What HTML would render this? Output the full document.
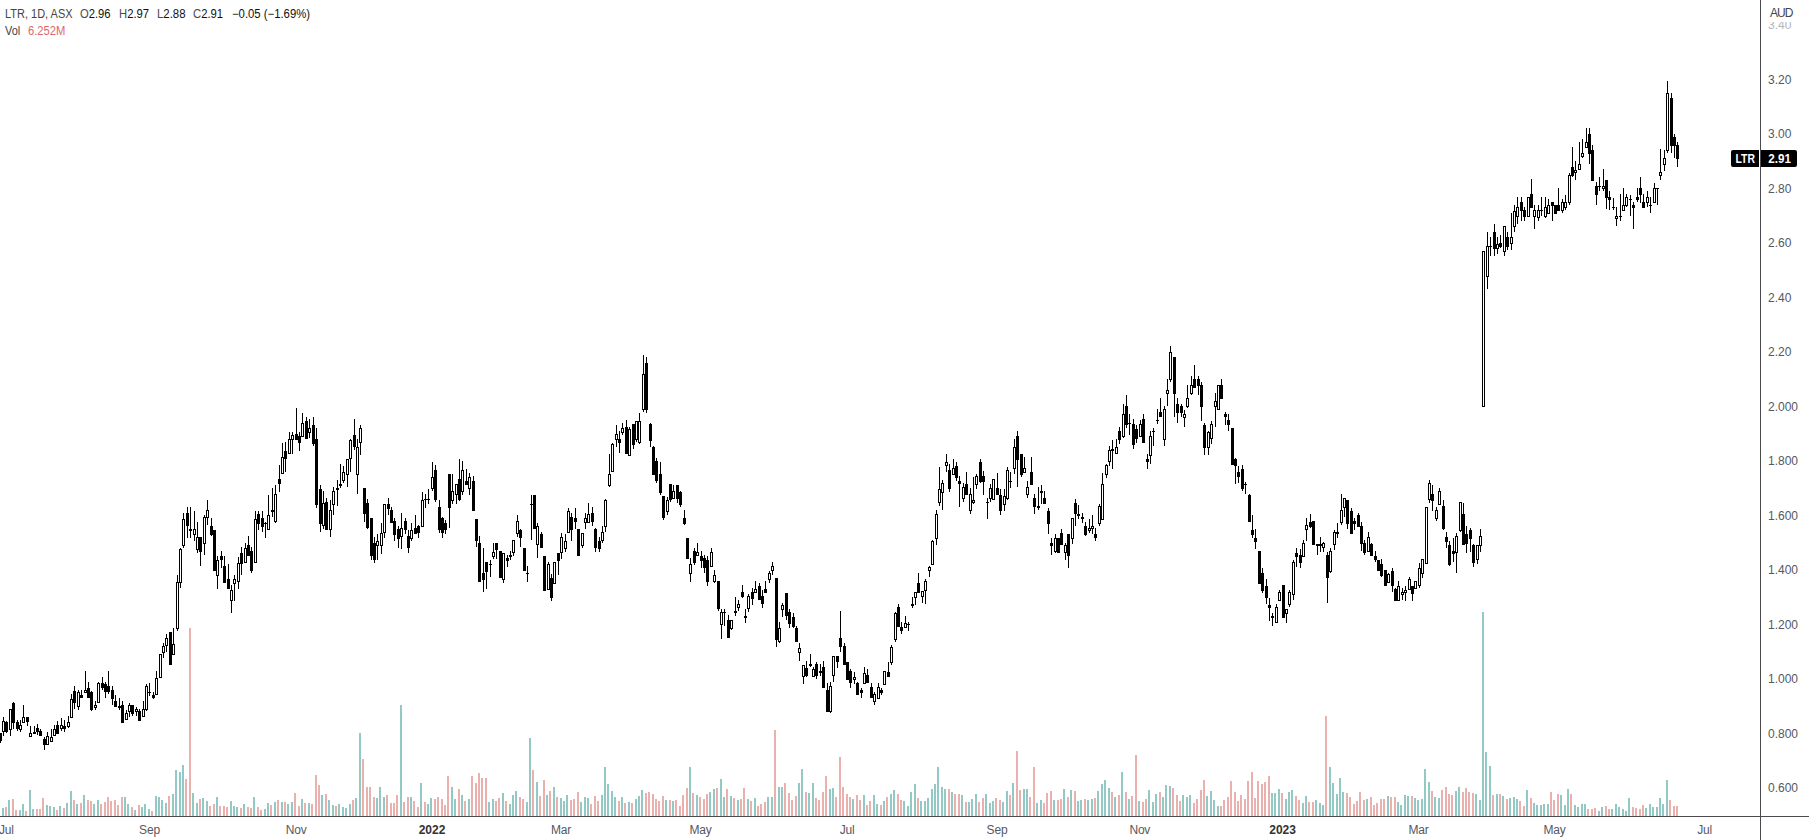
<!DOCTYPE html>
<html><head><meta charset="utf-8"><title>LTR</title>
<style>
html,body{margin:0;padding:0;background:#fff}
body{width:1809px;height:840px;position:relative;overflow:hidden;font-family:"Liberation Sans",sans-serif;font-size:12px;color:#4a4a4a}
.vax{position:absolute;left:1760px;top:0;width:1px;height:840px;background:#4a4a4e}
.hax{position:absolute;left:0;top:816px;width:1809px;height:1px;background:#4a4a4e}
.pl{position:absolute;left:1768px;height:14px;line-height:14px;white-space:nowrap;color:#555861}
.ml{position:absolute;top:823px;height:14px;line-height:14px;white-space:nowrap;transform:translateX(-50%);color:#555861;letter-spacing:-0.2px}
.ml.b{font-weight:bold;color:#333;letter-spacing:0}
.hd{position:absolute;transform-origin:0 0;white-space:nowrap;height:14px;line-height:14px}
.hd b{font-weight:normal;color:#111}
.aud{position:absolute;left:1762px;top:0;width:47px;height:22px;background:#fff}
.aud span{position:absolute;left:8px;top:5.5px;line-height:14px;color:#444;letter-spacing:-0.9px}
.tag{position:absolute;top:150px;height:17px;line-height:19px;background:#000;color:#fff;font-weight:bold;text-align:center}
</style></head><body>
<svg width="1760" height="817" viewBox="0 0 1760 817" shape-rendering="crispEdges" style="position:absolute;left:0;top:0">
<path fill="#93c9c4" d="M2 808h2v8h-2zM8 800h2v16h-2zM19 810h2v6h-2zM22 804h2v12h-2zM29 790h2v26h-2zM32 809h2v7h-2zM46 805h2v11h-2zM49 806h2v10h-2zM53 807h2v9h-2zM59 806h2v10h-2zM66 803h2v13h-2zM70 791h2v25h-2zM76 804h2v12h-2zM83 795h2v21h-2zM93 804h2v12h-2zM97 800h2v16h-2zM124 797h2v19h-2zM127 804h2v12h-2zM134 810h2v6h-2zM141 807h2v9h-2zM144 804h2v12h-2zM148 809h2v7h-2zM155 796h2v20h-2zM158 797h2v19h-2zM161 800h2v16h-2zM165 803h2v13h-2zM172 794h2v22h-2zM175 770h2v46h-2zM179 772h2v44h-2zM182 765h2v51h-2zM192 793h2v23h-2zM196 803h2v13h-2zM202 798h2v18h-2zM206 801h2v15h-2zM216 797h2v19h-2zM230 801h2v15h-2zM233 806h2v10h-2zM236 807h2v9h-2zM243 804h2v12h-2zM253 797h2v19h-2zM264 809h2v7h-2zM267 803h2v13h-2zM274 802h2v14h-2zM281 802h2v14h-2zM287 804h2v12h-2zM291 802h2v14h-2zM301 799h2v17h-2zM308 803h2v13h-2zM321 795h2v21h-2zM328 800h2v16h-2zM332 805h2v11h-2zM338 804h2v12h-2zM342 807h2v9h-2zM345 808h2v8h-2zM349 804h2v12h-2zM355 798h2v18h-2zM359 733h2v83h-2zM376 798h2v18h-2zM379 787h2v29h-2zM383 797h2v19h-2zM400 705h2v111h-2zM410 797h2v19h-2zM420 783h2v33h-2zM427 804h2v12h-2zM430 798h2v18h-2zM451 787h2v29h-2zM454 799h2v17h-2zM461 795h2v21h-2zM468 799h2v17h-2zM488 802h2v14h-2zM492 799h2v17h-2zM502 793h2v23h-2zM509 804h2v12h-2zM512 795h2v21h-2zM515 791h2v25h-2zM526 802h2v14h-2zM529 738h2v78h-2zM536 782h2v34h-2zM546 795h2v21h-2zM553 787h2v29h-2zM560 798h2v18h-2zM563 801h2v15h-2zM566 795h2v21h-2zM580 802h2v14h-2zM584 797h2v19h-2zM587 798h2v18h-2zM601 795h2v21h-2zM604 767h2v49h-2zM607 784h2v32h-2zM611 791h2v25h-2zM614 797h2v19h-2zM621 797h2v19h-2zM628 802h2v14h-2zM635 799h2v17h-2zM638 796h2v20h-2zM641 790h2v26h-2zM665 800h2v16h-2zM672 801h2v15h-2zM689 767h2v49h-2zM696 795h2v21h-2zM709 792h2v24h-2zM713 789h2v27h-2zM720 779h2v37h-2zM723 797h2v19h-2zM730 796h2v20h-2zM737 800h2v16h-2zM747 799h2v17h-2zM754 798h2v18h-2zM767 797h2v19h-2zM771 797h2v19h-2zM778 787h2v29h-2zM781 787h2v29h-2zM798 783h2v33h-2zM801 769h2v47h-2zM808 793h2v23h-2zM812 783h2v33h-2zM829 789h2v27h-2zM832 788h2v28h-2zM852 799h2v17h-2zM863 795h2v21h-2zM873 795h2v21h-2zM876 804h2v12h-2zM883 801h2v15h-2zM890 794h2v22h-2zM893 790h2v26h-2zM903 801h2v15h-2zM907 806h2v10h-2zM910 792h2v24h-2zM914 784h2v32h-2zM920 801h2v15h-2zM924 801h2v15h-2zM927 798h2v18h-2zM931 789h2v27h-2zM934 784h2v32h-2zM937 767h2v49h-2zM941 787h2v29h-2zM944 789h2v27h-2zM951 792h2v24h-2zM961 795h2v21h-2zM968 802h2v14h-2zM971 799h2v17h-2zM975 794h2v22h-2zM985 794h2v22h-2zM989 803h2v13h-2zM992 801h2v15h-2zM1002 802h2v14h-2zM1006 791h2v25h-2zM1012 783h2v33h-2zM1023 789h2v27h-2zM1026 789h2v27h-2zM1036 803h2v13h-2zM1040 800h2v16h-2zM1053 800h2v16h-2zM1063 789h2v27h-2zM1070 790h2v26h-2zM1077 801h2v15h-2zM1080 800h2v16h-2zM1087 800h2v16h-2zM1091 799h2v17h-2zM1097 791h2v25h-2zM1101 784h2v32h-2zM1104 780h2v36h-2zM1108 788h2v28h-2zM1114 797h2v19h-2zM1121 772h2v44h-2zM1128 799h2v17h-2zM1138 801h2v15h-2zM1148 790h2v26h-2zM1152 802h2v14h-2zM1155 794h2v22h-2zM1162 797h2v19h-2zM1165 785h2v31h-2zM1169 786h2v30h-2zM1182 795h2v21h-2zM1186 797h2v19h-2zM1189 795h2v21h-2zM1206 796h2v20h-2zM1210 791h2v25h-2zM1213 800h2v16h-2zM1217 806h2v10h-2zM1271 793h2v23h-2zM1274 793h2v23h-2zM1278 789h2v27h-2zM1285 799h2v17h-2zM1288 792h2v24h-2zM1291 790h2v26h-2zM1302 803h2v13h-2zM1305 796h2v20h-2zM1315 800h2v16h-2zM1319 803h2v13h-2zM1322 805h2v11h-2zM1329 767h2v49h-2zM1332 783h2v33h-2zM1336 794h2v22h-2zM1339 778h2v38h-2zM1342 792h2v24h-2zM1366 799h2v17h-2zM1387 796h2v20h-2zM1397 802h2v14h-2zM1400 805h2v11h-2zM1404 795h2v21h-2zM1407 796h2v20h-2zM1414 798h2v18h-2zM1417 800h2v16h-2zM1421 799h2v17h-2zM1424 769h2v47h-2zM1428 782h2v34h-2zM1434 797h2v19h-2zM1438 798h2v18h-2zM1455 791h2v25h-2zM1458 787h2v29h-2zM1475 794h2v22h-2zM1479 800h2v16h-2zM1482 612h2v204h-2zM1485 752h2v64h-2zM1489 766h2v50h-2zM1496 794h2v22h-2zM1502 796h2v20h-2zM1509 798h2v18h-2zM1513 797h2v19h-2zM1516 799h2v17h-2zM1526 790h2v26h-2zM1533 803h2v13h-2zM1536 805h2v11h-2zM1540 805h2v11h-2zM1543 804h2v12h-2zM1547 804h2v12h-2zM1560 795h2v21h-2zM1564 805h2v11h-2zM1567 789h2v27h-2zM1574 805h2v11h-2zM1577 807h2v9h-2zM1581 804h2v12h-2zM1584 804h2v12h-2zM1598 811h2v5h-2zM1601 807h2v9h-2zM1611 809h2v7h-2zM1615 804h2v12h-2zM1618 807h2v9h-2zM1622 809h2v7h-2zM1625 811h2v5h-2zM1628 798h2v18h-2zM1645 808h2v8h-2zM1649 804h2v12h-2zM1652 807h2v9h-2zM1656 807h2v9h-2zM1659 798h2v18h-2zM1662 804h2v12h-2zM1666 780h2v36h-2z"/>
<path fill="#e9b0ae" d="M5 807h2v9h-2zM12 799h2v17h-2zM15 810h2v6h-2zM25 811h2v5h-2zM36 809h2v7h-2zM39 809h2v7h-2zM42 798h2v18h-2zM56 810h2v6h-2zM63 808h2v8h-2zM73 800h2v16h-2zM80 803h2v13h-2zM87 800h2v16h-2zM90 801h2v15h-2zM100 804h2v12h-2zM104 802h2v14h-2zM107 797h2v19h-2zM110 801h2v15h-2zM114 800h2v16h-2zM117 805h2v11h-2zM121 797h2v19h-2zM131 807h2v9h-2zM138 805h2v11h-2zM151 811h2v5h-2zM168 796h2v20h-2zM185 779h2v37h-2zM189 628h2v188h-2zM199 799h2v17h-2zM209 806h2v10h-2zM213 804h2v12h-2zM219 806h2v10h-2zM223 806h2v10h-2zM226 807h2v9h-2zM240 808h2v8h-2zM247 807h2v9h-2zM250 808h2v8h-2zM257 807h2v9h-2zM260 810h2v6h-2zM270 805h2v11h-2zM277 800h2v16h-2zM284 802h2v14h-2zM294 793h2v23h-2zM298 806h2v10h-2zM304 803h2v13h-2zM311 804h2v12h-2zM315 775h2v41h-2zM318 785h2v31h-2zM325 794h2v22h-2zM335 806h2v10h-2zM352 800h2v16h-2zM362 759h2v57h-2zM366 787h2v29h-2zM369 787h2v29h-2zM373 797h2v19h-2zM386 795h2v21h-2zM390 803h2v13h-2zM393 803h2v13h-2zM396 795h2v21h-2zM403 802h2v14h-2zM407 797h2v19h-2zM413 801h2v15h-2zM417 807h2v9h-2zM424 802h2v14h-2zM434 799h2v17h-2zM437 797h2v19h-2zM441 799h2v17h-2zM444 805h2v11h-2zM447 776h2v40h-2zM458 789h2v27h-2zM464 801h2v15h-2zM471 776h2v40h-2zM475 783h2v33h-2zM478 773h2v43h-2zM481 778h2v38h-2zM485 778h2v38h-2zM495 801h2v15h-2zM498 798h2v18h-2zM505 801h2v15h-2zM519 797h2v19h-2zM522 799h2v17h-2zM532 770h2v46h-2zM539 796h2v20h-2zM543 780h2v36h-2zM549 791h2v25h-2zM556 797h2v19h-2zM570 800h2v16h-2zM573 799h2v17h-2zM577 792h2v24h-2zM590 804h2v12h-2zM594 796h2v20h-2zM597 801h2v15h-2zM618 801h2v15h-2zM624 803h2v13h-2zM631 803h2v13h-2zM645 793h2v23h-2zM648 792h2v24h-2zM652 794h2v22h-2zM655 799h2v17h-2zM658 801h2v15h-2zM662 796h2v20h-2zM669 800h2v16h-2zM675 800h2v16h-2zM679 806h2v10h-2zM682 795h2v21h-2zM686 788h2v28h-2zM692 793h2v23h-2zM699 797h2v19h-2zM703 799h2v17h-2zM706 794h2v22h-2zM716 788h2v28h-2zM726 789h2v27h-2zM733 798h2v18h-2zM740 799h2v17h-2zM743 788h2v28h-2zM750 801h2v15h-2zM757 806h2v10h-2zM760 804h2v12h-2zM764 802h2v14h-2zM774 730h2v86h-2zM784 783h2v33h-2zM788 793h2v23h-2zM791 800h2v16h-2zM795 796h2v20h-2zM805 792h2v24h-2zM815 798h2v18h-2zM818 800h2v16h-2zM822 792h2v24h-2zM825 776h2v40h-2zM835 797h2v19h-2zM839 757h2v59h-2zM842 787h2v29h-2zM846 794h2v22h-2zM849 797h2v19h-2zM856 795h2v21h-2zM859 800h2v16h-2zM866 805h2v11h-2zM869 801h2v15h-2zM880 805h2v11h-2zM886 797h2v19h-2zM897 794h2v22h-2zM900 800h2v16h-2zM917 798h2v18h-2zM948 789h2v27h-2zM954 794h2v22h-2zM958 794h2v22h-2zM965 802h2v14h-2zM978 802h2v14h-2zM982 798h2v18h-2zM995 798h2v18h-2zM999 800h2v16h-2zM1009 795h2v21h-2zM1016 751h2v65h-2zM1019 790h2v26h-2zM1029 797h2v19h-2zM1033 767h2v49h-2zM1043 803h2v13h-2zM1046 793h2v23h-2zM1050 791h2v25h-2zM1057 800h2v16h-2zM1060 799h2v17h-2zM1067 797h2v19h-2zM1074 791h2v25h-2zM1084 799h2v17h-2zM1094 798h2v18h-2zM1111 792h2v24h-2zM1118 795h2v21h-2zM1125 792h2v24h-2zM1131 796h2v20h-2zM1135 755h2v61h-2zM1142 802h2v14h-2zM1145 799h2v17h-2zM1159 792h2v24h-2zM1172 788h2v28h-2zM1176 795h2v21h-2zM1179 801h2v15h-2zM1193 803h2v13h-2zM1196 799h2v17h-2zM1200 790h2v26h-2zM1203 780h2v36h-2zM1220 806h2v10h-2zM1223 800h2v16h-2zM1227 797h2v19h-2zM1230 781h2v35h-2zM1234 792h2v24h-2zM1237 801h2v15h-2zM1240 795h2v21h-2zM1244 799h2v17h-2zM1247 781h2v35h-2zM1251 772h2v44h-2zM1254 798h2v18h-2zM1257 781h2v35h-2zM1261 784h2v32h-2zM1264 782h2v34h-2zM1268 776h2v40h-2zM1281 793h2v23h-2zM1295 796h2v20h-2zM1298 800h2v16h-2zM1308 802h2v14h-2zM1312 802h2v14h-2zM1325 716h2v100h-2zM1346 793h2v23h-2zM1349 797h2v19h-2zM1353 804h2v12h-2zM1356 801h2v15h-2zM1359 792h2v24h-2zM1363 800h2v16h-2zM1370 797h2v19h-2zM1373 805h2v11h-2zM1376 803h2v13h-2zM1380 799h2v17h-2zM1383 799h2v17h-2zM1390 797h2v19h-2zM1394 797h2v19h-2zM1411 796h2v20h-2zM1431 791h2v25h-2zM1441 790h2v26h-2zM1445 787h2v29h-2zM1448 794h2v22h-2zM1451 795h2v21h-2zM1462 792h2v24h-2zM1465 788h2v28h-2zM1468 792h2v24h-2zM1472 793h2v23h-2zM1492 795h2v21h-2zM1499 794h2v22h-2zM1506 799h2v17h-2zM1519 801h2v15h-2zM1523 806h2v10h-2zM1530 798h2v18h-2zM1550 792h2v24h-2zM1553 800h2v16h-2zM1557 794h2v22h-2zM1570 794h2v22h-2zM1587 809h2v7h-2zM1591 809h2v7h-2zM1594 808h2v8h-2zM1605 806h2v10h-2zM1608 809h2v7h-2zM1632 807h2v9h-2zM1635 808h2v8h-2zM1639 809h2v7h-2zM1642 805h2v11h-2zM1669 800h2v16h-2zM1673 806h2v10h-2zM1676 806h2v10h-2z"/>
<path fill="#000" d="M0 733h1v10h-1zM-1 733h3v8h-3zM3 717h1v19h-1zM2 721h3v11h-3zM6 721h1v12h-1zM5 722h3v10h-3zM10 709h1v27h-1zM9 709h3v21h-3zM13 702h1v27h-1zM12 703h3v20h-3zM17 720h1v11h-1zM16 722h3v7h-3zM20 720h1v12h-1zM19 725h3v5h-3zM23 705h1v18h-1zM22 717h3v6h-3zM27 717h1v9h-1zM26 717h3v5h-3zM30 726h1v11h-1zM29 733h3v4h-3zM34 726h1v8h-1zM33 732h3v2h-3zM37 724h1v11h-1zM36 728h3v4h-3zM40 729h1v7h-1zM39 731h3v5h-3zM44 737h1v13h-1zM43 739h3v6h-3zM47 732h1v13h-1zM46 736h3v9h-3zM51 729h1v13h-1zM50 737h3v5h-3zM54 725h1v11h-1zM53 729h3v7h-3zM57 721h1v13h-1zM56 725h3v9h-3zM61 718h1v13h-1zM60 725h3v4h-3zM64 720h1v12h-1zM63 726h3v3h-3zM68 716h1v12h-1zM67 722h3v5h-3zM71 694h1v24h-1zM70 699h3v19h-3zM74 686h1v23h-1zM73 691h3v12h-3zM78 690h1v20h-1zM77 692h3v15h-3zM81 690h1v8h-1zM80 695h3v3h-3zM85 671h1v22h-1zM84 690h3v3h-3zM88 682h1v16h-1zM87 688h3v10h-3zM91 691h1v20h-1zM90 692h3v18h-3zM95 701h1v9h-1zM94 705h3v3h-3zM98 682h1v21h-1zM97 683h3v20h-3zM102 677h1v13h-1zM101 683h3v5h-3zM105 682h1v16h-1zM104 684h3v8h-3zM108 671h1v23h-1zM107 686h3v6h-3zM112 686h1v19h-1zM111 690h3v9h-3zM115 695h1v12h-1zM114 701h3v6h-3zM119 698h1v12h-1zM118 706h3v2h-3zM122 701h1v22h-1zM121 705h3v18h-3zM126 710h1v10h-1zM125 713h3v7h-3zM129 703h1v14h-1zM128 705h3v7h-3zM132 705h1v11h-1zM131 705h3v9h-3zM136 707h1v9h-1zM135 709h3v3h-3zM139 709h1v12h-1zM138 711h3v10h-3zM143 701h1v16h-1zM142 709h3v8h-3zM146 684h1v27h-1zM145 686h3v24h-3zM149 683h1v13h-1zM148 692h3v1h-3zM153 692h1v7h-1zM152 695h3v3h-3zM156 671h1v24h-1zM155 678h3v17h-3zM160 654h1v24h-1zM159 654h3v24h-3zM163 643h1v15h-1zM162 646h3v7h-3zM166 634h1v18h-1zM165 638h3v8h-3zM170 632h1v33h-1zM169 632h3v33h-3zM173 628h1v27h-1zM172 644h3v11h-3zM177 575h1v56h-1zM176 582h3v47h-3zM180 548h1v40h-1zM179 549h3v34h-3zM183 513h1v35h-1zM182 519h3v27h-3zM187 507h1v31h-1zM186 513h3v13h-3zM190 507h1v31h-1zM189 529h3v2h-3zM194 511h1v30h-1zM193 529h3v6h-3zM197 522h1v31h-1zM196 537h3v13h-3zM200 537h1v29h-1zM199 537h3v15h-3zM204 515h1v40h-1zM203 517h3v27h-3zM207 500h1v25h-1zM206 510h3v8h-3zM211 518h1v18h-1zM210 526h3v9h-3zM214 530h1v41h-1zM213 530h3v41h-3zM217 556h1v33h-1zM216 560h3v16h-3zM221 551h1v17h-1zM220 556h3v4h-3zM224 556h1v27h-1zM223 566h3v17h-3zM228 564h1v25h-1zM227 579h3v10h-3zM231 585h1v28h-1zM230 590h3v11h-3zM234 575h1v26h-1zM233 579h3v5h-3zM238 557h1v32h-1zM237 563h3v19h-3zM241 547h1v28h-1zM240 553h3v11h-3zM245 543h1v20h-1zM244 548h3v15h-3zM248 536h1v20h-1zM247 545h3v11h-3zM251 547h1v26h-1zM250 551h3v20h-3zM255 511h1v52h-1zM254 519h3v44h-3zM258 511h1v19h-1zM257 514h3v10h-3zM262 511h1v21h-1zM261 518h3v9h-3zM265 522h1v16h-1zM264 523h3v1h-3zM268 495h1v35h-1zM267 515h3v15h-3zM272 488h1v29h-1zM271 510h3v2h-3zM275 485h1v38h-1zM274 494h3v28h-3zM279 465h1v27h-1zM278 479h3v5h-3zM282 443h1v31h-1zM281 457h3v17h-3zM285 442h1v30h-1zM284 451h3v8h-3zM289 432h1v22h-1zM288 439h3v15h-3zM292 432h1v22h-1zM291 435h3v5h-3zM296 408h1v32h-1zM295 434h3v6h-3zM299 432h1v19h-1zM298 436h3v7h-3zM302 413h1v24h-1zM301 423h3v14h-3zM306 417h1v22h-1zM305 421h3v18h-3zM309 419h1v19h-1zM308 428h3v5h-3zM313 417h1v29h-1zM312 425h3v19h-3zM316 428h1v80h-1zM315 439h3v66h-3zM320 485h1v47h-1zM319 489h3v35h-3zM323 491h1v38h-1zM322 503h3v23h-3zM326 498h1v32h-1zM325 502h3v28h-3zM330 500h1v37h-1zM329 510h3v20h-3zM333 487h1v28h-1zM332 491h3v14h-3zM337 480h1v26h-1zM336 488h3v2h-3zM340 464h1v24h-1zM339 484h3v2h-3zM343 466h1v17h-1zM342 472h3v9h-3zM347 459h1v28h-1zM346 459h3v16h-3zM350 439h1v33h-1zM349 440h3v19h-3zM354 419h1v31h-1zM353 435h3v12h-3zM357 439h1v55h-1zM356 447h3v28h-3zM360 425h1v30h-1zM359 428h3v15h-3zM364 488h1v34h-1zM363 488h3v26h-3zM367 499h1v30h-1zM366 503h3v25h-3zM371 518h1v42h-1zM370 518h3v38h-3zM374 537h1v26h-1zM373 543h3v17h-3zM377 534h1v26h-1zM376 541h3v5h-3zM381 523h1v31h-1zM380 533h3v13h-3zM384 504h1v34h-1zM383 504h3v29h-3zM388 498h1v17h-1zM387 504h3v5h-3zM391 507h1v16h-1zM390 510h3v13h-3zM394 518h1v23h-1zM393 521h3v14h-3zM398 526h1v22h-1zM397 529h3v10h-3zM401 513h1v36h-1zM400 528h3v9h-3zM405 518h1v16h-1zM404 521h3v9h-3zM408 530h1v23h-1zM407 536h3v12h-3zM411 523h1v18h-1zM410 530h3v9h-3zM415 515h1v19h-1zM414 528h3v6h-3zM418 525h1v13h-1zM417 526h3v7h-3zM422 492h1v35h-1zM421 500h3v27h-3zM425 494h1v14h-1zM424 499h3v1h-3zM428 489h1v15h-1zM427 499h3v1h-3zM432 462h1v29h-1zM431 477h3v12h-3zM435 465h1v37h-1zM434 470h3v30h-3zM439 500h1v33h-1zM438 507h3v23h-3zM442 517h1v21h-1zM441 518h3v15h-3zM445 520h1v14h-1zM444 523h3v7h-3zM449 474h1v54h-1zM448 474h3v34h-3zM452 474h1v30h-1zM451 491h3v10h-3zM456 484h1v20h-1zM455 484h3v11h-3zM459 459h1v42h-1zM458 479h3v21h-3zM462 461h1v34h-1zM461 470h3v22h-3zM466 469h1v16h-1zM465 481h3v4h-3zM469 473h1v22h-1zM468 477h3v12h-3zM473 476h1v35h-1zM472 481h3v30h-3zM476 519h1v28h-1zM475 519h3v22h-3zM479 536h1v46h-1zM478 543h3v39h-3zM483 548h1v44h-1zM482 573h3v7h-3zM486 562h1v27h-1zM485 562h3v10h-3zM490 560h1v17h-1zM489 564h3v1h-3zM493 543h1v16h-1zM492 552h3v5h-3zM496 543h1v16h-1zM495 543h3v7h-3zM500 551h1v27h-1zM499 551h3v27h-3zM503 553h1v30h-1zM502 553h3v27h-3zM507 555h1v12h-1zM506 558h3v3h-3zM510 551h1v9h-1zM509 555h3v2h-3zM513 540h1v16h-1zM512 540h3v13h-3zM517 515h1v22h-1zM516 521h3v13h-3zM520 529h1v18h-1zM519 530h3v8h-3zM524 548h1v23h-1zM523 548h3v23h-3zM527 566h1v16h-1zM526 573h3v1h-3zM531 495h1v45h-1zM530 504h3v1h-3zM534 495h1v34h-1zM533 495h3v34h-3zM537 523h1v35h-1zM536 526h3v19h-3zM541 532h1v16h-1zM540 534h3v14h-3zM544 556h1v35h-1zM543 556h3v35h-3zM548 562h1v28h-1zM547 564h3v26h-3zM551 574h1v27h-1zM550 578h3v20h-3zM554 562h1v22h-1zM553 562h3v22h-3zM558 553h1v22h-1zM557 553h3v8h-3zM561 533h1v26h-1zM560 537h3v16h-3zM565 534h1v18h-1zM564 541h3v8h-3zM568 508h1v25h-1zM567 511h3v22h-3zM571 513h1v28h-1zM570 517h3v13h-3zM575 508h1v21h-1zM574 518h3v4h-3zM578 529h1v27h-1zM577 529h3v27h-3zM582 533h1v15h-1zM581 533h3v13h-3zM585 513h1v16h-1zM584 518h3v5h-3zM588 503h1v20h-1zM587 514h3v9h-3zM592 507h1v19h-1zM591 513h3v9h-3zM595 528h1v24h-1zM594 529h3v19h-3zM599 537h1v15h-1zM598 541h3v8h-3zM602 526h1v17h-1zM601 532h3v9h-3zM605 499h1v33h-1zM604 500h3v27h-3zM609 454h1v33h-1zM608 474h3v12h-3zM612 443h1v29h-1zM611 444h3v28h-3zM616 425h1v22h-1zM615 434h3v6h-3zM619 431h1v22h-1zM618 439h3v4h-3zM622 423h1v12h-1zM621 428h3v5h-3zM626 420h1v34h-1zM625 427h3v27h-3zM629 427h1v29h-1zM628 429h3v27h-3zM633 424h1v25h-1zM632 424h3v21h-3zM636 421h1v21h-1zM635 421h3v19h-3zM639 413h1v31h-1zM638 421h3v22h-3zM643 355h1v57h-1zM642 374h3v36h-3zM646 357h1v56h-1zM645 363h3v47h-3zM650 423h1v24h-1zM649 424h3v17h-3zM653 446h1v29h-1zM652 447h3v28h-3zM656 458h1v25h-1zM655 461h3v20h-3zM660 462h1v33h-1zM659 474h3v19h-3zM663 496h1v24h-1zM662 496h3v22h-3zM667 497h1v18h-1zM666 500h3v12h-3zM670 484h1v18h-1zM669 484h3v16h-3zM673 485h1v14h-1zM672 491h3v8h-3zM677 485h1v18h-1zM676 485h3v14h-3zM680 491h1v16h-1zM679 492h3v13h-3zM684 510h1v15h-1zM683 518h3v6h-3zM687 538h1v21h-1zM686 538h3v21h-3zM690 558h1v24h-1zM689 564h3v10h-3zM694 548h1v17h-1zM693 551h3v12h-3zM697 543h1v13h-1zM696 552h3v4h-3zM701 551h1v17h-1zM700 556h3v5h-3zM704 555h1v18h-1zM703 558h3v10h-3zM707 556h1v30h-1zM706 560h3v22h-3zM711 548h1v19h-1zM710 552h3v15h-3zM714 570h1v13h-1zM713 575h3v7h-3zM718 581h1v30h-1zM717 581h3v28h-3zM721 609h1v30h-1zM720 612h3v13h-3zM724 609h1v17h-1zM723 612h3v1h-3zM728 615h1v23h-1zM727 620h3v18h-3zM731 620h1v10h-1zM730 620h3v9h-3zM735 597h1v19h-1zM734 611h3v2h-3zM738 600h1v11h-1zM737 604h3v4h-3zM742 585h1v13h-1zM741 592h3v5h-3zM745 609h1v14h-1zM744 616h3v2h-3zM748 594h1v18h-1zM747 596h3v13h-3zM752 588h1v17h-1zM751 592h3v7h-3zM755 581h1v12h-1zM754 589h3v4h-3zM759 583h1v17h-1zM758 586h3v14h-3zM762 590h1v18h-1zM761 596h3v8h-3zM765 581h1v12h-1zM764 589h3v4h-3zM769 571h1v12h-1zM768 573h3v7h-3zM772 562h1v13h-1zM771 566h3v5h-3zM776 578h1v69h-1zM775 578h3v62h-3zM779 622h1v21h-1zM778 628h3v14h-3zM782 603h1v14h-1zM781 605h3v5h-3zM786 593h1v27h-1zM785 593h3v23h-3zM789 609h1v19h-1zM788 612h3v12h-3zM793 613h1v15h-1zM792 617h3v10h-3zM796 626h1v16h-1zM795 628h3v14h-3zM799 643h1v18h-1zM798 648h3v5h-3zM803 665h1v19h-1zM802 665h3v12h-3zM806 661h1v16h-1zM805 668h3v8h-3zM810 654h1v13h-1zM809 664h3v2h-3zM813 667h1v10h-1zM812 669h3v8h-3zM816 662h1v17h-1zM815 664h3v12h-3zM820 664h1v12h-1zM819 671h3v2h-3zM823 661h1v27h-1zM822 667h3v21h-3zM827 683h1v29h-1zM826 690h3v22h-3zM830 682h1v31h-1zM829 686h3v26h-3zM833 656h1v26h-1zM832 656h3v20h-3zM837 656h1v12h-1zM836 656h3v6h-3zM840 611h1v41h-1zM839 638h3v9h-3zM844 643h1v22h-1zM843 646h3v19h-3zM847 662h1v18h-1zM846 662h3v18h-3zM850 669h1v19h-1zM849 671h3v12h-3zM854 672h1v12h-1zM853 677h3v3h-3zM857 682h1v13h-1zM856 683h3v12h-3zM861 688h1v10h-1zM860 690h3v3h-3zM864 667h1v17h-1zM863 673h3v11h-3zM867 669h1v14h-1zM866 675h3v8h-3zM871 683h1v15h-1zM870 687h3v11h-3zM874 692h1v13h-1zM873 694h3v8h-3zM878 683h1v16h-1zM877 687h3v12h-3zM881 688h1v7h-1zM880 690h3v3h-3zM884 671h1v14h-1zM883 671h3v14h-3zM888 662h1v15h-1zM887 672h3v5h-3zM891 645h1v20h-1zM890 647h3v16h-3zM895 612h1v30h-1zM894 613h3v27h-3zM898 604h1v23h-1zM897 607h3v20h-3zM901 622h1v12h-1zM900 627h3v4h-3zM905 616h1v12h-1zM904 623h3v5h-3zM908 622h1v9h-1zM907 624h3v1h-3zM912 597h1v11h-1zM911 604h3v2h-3zM915 592h1v13h-1zM914 592h3v6h-3zM918 573h1v20h-1zM917 583h3v10h-3zM922 591h1v12h-1zM921 591h3v6h-3zM925 579h1v25h-1zM924 581h3v10h-3zM929 566h1v11h-1zM928 567h3v4h-3zM932 540h1v25h-1zM931 541h3v24h-3zM936 510h1v35h-1zM935 514h3v25h-3zM939 467h1v39h-1zM938 489h3v14h-3zM942 480h1v30h-1zM941 483h3v10h-3zM946 454h1v18h-1zM945 462h3v4h-3zM949 464h1v28h-1zM948 470h3v19h-3zM953 459h1v16h-1zM952 468h3v7h-3zM956 462h1v19h-1zM955 466h3v12h-3zM959 476h1v31h-1zM958 481h3v3h-3zM963 483h1v19h-1zM962 487h3v12h-3zM966 472h1v23h-1zM965 484h3v11h-3zM970 488h1v26h-1zM969 494h3v17h-3zM973 477h1v27h-1zM972 500h3v3h-3zM976 474h1v15h-1zM975 476h3v9h-3zM980 459h1v24h-1zM979 462h3v20h-3zM983 471h1v24h-1zM982 476h3v6h-3zM987 498h1v21h-1zM986 502h3v1h-3zM990 484h1v18h-1zM989 488h3v11h-3zM993 479h1v21h-1zM992 479h3v21h-3zM997 473h1v22h-1zM996 488h3v7h-3zM1000 489h1v26h-1zM999 495h3v16h-3zM1004 489h1v22h-1zM1003 496h3v9h-3zM1007 467h1v33h-1zM1006 470h3v29h-3zM1010 472h1v16h-1zM1009 481h3v1h-3zM1014 439h1v35h-1zM1013 447h3v22h-3zM1017 431h1v56h-1zM1016 436h3v24h-3zM1021 454h1v23h-1zM1020 454h3v21h-3zM1024 457h1v16h-1zM1023 468h3v5h-3zM1027 481h1v17h-1zM1026 487h3v8h-3zM1031 457h1v28h-1zM1030 472h3v13h-3zM1034 494h1v20h-1zM1033 498h3v9h-3zM1038 487h1v23h-1zM1037 506h3v2h-3zM1041 485h1v19h-1zM1040 491h3v2h-3zM1044 491h1v13h-1zM1043 498h3v6h-3zM1048 508h1v26h-1zM1047 511h3v13h-3zM1051 538h1v17h-1zM1050 543h3v3h-3zM1055 534h1v19h-1zM1054 538h3v14h-3zM1058 538h1v15h-1zM1057 538h3v15h-3zM1061 529h1v16h-1zM1060 533h3v12h-3zM1065 543h1v17h-1zM1064 545h3v8h-3zM1068 534h1v34h-1zM1067 534h3v22h-3zM1072 518h1v26h-1zM1071 518h3v21h-3zM1075 499h1v27h-1zM1074 503h3v11h-3zM1078 505h1v14h-1zM1077 514h3v2h-3zM1082 513h1v10h-1zM1081 517h3v2h-3zM1085 522h1v14h-1zM1084 526h3v9h-3zM1089 519h1v14h-1zM1088 528h3v3h-3zM1092 515h1v19h-1zM1091 526h3v3h-3zM1095 528h1v13h-1zM1094 534h3v4h-3zM1099 504h1v22h-1zM1098 506h3v18h-3zM1102 473h1v47h-1zM1101 484h3v36h-3zM1106 464h1v14h-1zM1105 465h3v10h-3zM1109 446h1v20h-1zM1108 450h3v12h-3zM1112 440h1v29h-1zM1111 449h3v2h-3zM1116 439h1v15h-1zM1115 447h3v7h-3zM1119 427h1v17h-1zM1118 431h3v9h-3zM1123 404h1v34h-1zM1122 414h3v23h-3zM1126 395h1v33h-1zM1125 406h3v19h-3zM1129 414h1v21h-1zM1128 423h3v1h-3zM1133 419h1v30h-1zM1132 424h3v21h-3zM1136 425h1v18h-1zM1135 429h3v10h-3zM1140 420h1v17h-1zM1139 424h3v13h-3zM1143 414h1v29h-1zM1142 419h3v24h-3zM1147 454h1v15h-1zM1146 459h3v3h-3zM1150 431h1v33h-1zM1149 436h3v20h-3zM1153 428h1v18h-1zM1152 431h3v1h-3zM1157 409h1v15h-1zM1156 420h3v1h-3zM1160 398h1v19h-1zM1159 412h3v5h-3zM1164 406h1v40h-1zM1163 409h3v31h-3zM1167 379h1v27h-1zM1166 390h3v4h-3zM1170 346h1v36h-1zM1169 352h3v28h-3zM1174 357h1v60h-1zM1173 357h3v37h-3zM1177 398h1v25h-1zM1176 404h3v9h-3zM1181 404h1v13h-1zM1180 406h3v7h-3zM1184 410h1v17h-1zM1183 414h3v4h-3zM1187 385h1v23h-1zM1186 398h3v9h-3zM1191 376h1v19h-1zM1190 385h3v9h-3zM1194 365h1v23h-1zM1193 379h3v9h-3zM1198 376h1v19h-1zM1197 379h3v7h-3zM1201 382h1v39h-1zM1200 385h3v22h-3zM1204 423h1v32h-1zM1203 425h3v23h-3zM1208 431h1v24h-1zM1207 432h3v16h-3zM1211 421h1v23h-1zM1210 424h3v15h-3zM1215 393h1v34h-1zM1214 401h3v6h-3zM1218 385h1v25h-1zM1217 385h3v25h-3zM1221 379h1v20h-1zM1220 385h3v14h-3zM1225 412h1v13h-1zM1224 414h3v3h-3zM1228 414h1v17h-1zM1227 420h3v5h-3zM1232 428h1v37h-1zM1231 428h3v37h-3zM1235 458h1v26h-1zM1234 459h3v7h-3zM1238 466h1v17h-1zM1237 472h3v5h-3zM1242 465h1v26h-1zM1241 469h3v20h-3zM1245 482h1v12h-1zM1244 484h3v1h-3zM1249 494h1v28h-1zM1248 495h3v27h-3zM1252 515h1v23h-1zM1251 530h3v5h-3zM1255 529h1v20h-1zM1254 538h3v4h-3zM1259 551h1v33h-1zM1258 551h3v33h-3zM1262 568h1v25h-1zM1261 573h3v18h-3zM1266 579h1v25h-1zM1265 586h3v12h-3zM1269 598h1v23h-1zM1268 605h3v3h-3zM1272 613h1v13h-1zM1271 616h3v2h-3zM1276 604h1v19h-1zM1275 607h3v16h-3zM1279 590h1v11h-1zM1278 592h3v9h-3zM1283 585h1v33h-1zM1282 585h3v33h-3zM1286 609h1v14h-1zM1285 609h3v5h-3zM1289 590h1v17h-1zM1288 592h3v13h-3zM1293 560h1v40h-1zM1292 562h3v33h-3zM1296 548h1v19h-1zM1295 553h3v4h-3zM1300 549h1v19h-1zM1299 555h3v8h-3zM1303 540h1v17h-1zM1302 543h3v14h-3zM1306 518h1v23h-1zM1305 525h3v5h-3zM1310 514h1v14h-1zM1309 522h3v5h-3zM1313 521h1v24h-1zM1312 521h3v24h-3zM1317 544h1v11h-1zM1316 544h3v2h-3zM1320 537h1v15h-1zM1319 544h3v2h-3zM1323 542h1v10h-1zM1322 543h3v5h-3zM1327 552h1v51h-1zM1326 555h3v23h-3zM1330 548h1v25h-1zM1329 551h3v21h-3zM1334 530h1v20h-1zM1333 532h3v13h-3zM1337 523h1v15h-1zM1336 532h3v2h-3zM1341 494h1v31h-1zM1340 510h3v13h-3zM1344 498h1v19h-1zM1343 498h3v10h-3zM1347 500h1v29h-1zM1346 500h3v24h-3zM1351 508h1v26h-1zM1350 511h3v23h-3zM1354 518h1v12h-1zM1353 521h3v3h-3zM1358 513h1v14h-1zM1357 515h3v12h-3zM1361 522h1v29h-1zM1360 526h3v18h-3zM1364 540h1v15h-1zM1363 543h3v10h-3zM1368 532h1v20h-1zM1367 537h3v15h-3zM1371 543h1v13h-1zM1370 544h3v12h-3zM1375 551h1v11h-1zM1374 556h3v4h-3zM1378 560h1v11h-1zM1377 560h3v11h-3zM1381 559h1v18h-1zM1380 564h3v12h-3zM1385 570h1v16h-1zM1384 570h3v16h-3zM1388 573h1v10h-1zM1387 574h3v9h-3zM1392 568h1v24h-1zM1391 571h3v15h-3zM1395 588h1v13h-1zM1394 589h3v12h-3zM1398 581h1v20h-1zM1397 586h3v15h-3zM1402 588h1v12h-1zM1401 592h3v3h-3zM1405 586h1v15h-1zM1404 590h3v3h-3zM1409 577h1v13h-1zM1408 579h3v11h-3zM1412 586h1v15h-1zM1411 586h3v8h-3zM1415 581h1v8h-1zM1414 581h3v8h-3zM1419 563h1v25h-1zM1418 568h3v18h-3zM1422 559h1v19h-1zM1421 559h3v15h-3zM1426 507h1v57h-1zM1425 507h3v57h-3zM1429 480h1v23h-1zM1428 483h3v17h-3zM1432 485h1v26h-1zM1431 494h3v7h-3zM1436 507h1v14h-1zM1435 510h3v9h-3zM1439 488h1v17h-1zM1438 491h3v14h-3zM1443 500h1v30h-1zM1442 506h3v23h-3zM1446 532h1v16h-1zM1445 537h3v5h-3zM1449 541h1v25h-1zM1448 545h3v20h-3zM1453 538h1v24h-1zM1452 551h3v3h-3zM1456 533h1v40h-1zM1455 536h3v17h-3zM1460 502h1v30h-1zM1459 502h3v29h-3zM1463 503h1v42h-1zM1462 514h3v31h-3zM1466 526h1v27h-1zM1465 534h3v10h-3zM1470 528h1v24h-1zM1469 530h3v9h-3zM1473 544h1v23h-1zM1472 545h3v18h-3zM1477 545h1v19h-1zM1476 545h3v15h-3zM1480 529h1v23h-1zM1479 536h3v10h-3zM1483 251h1v156h-1zM1482 251h3v156h-3zM1487 232h1v57h-1zM1486 246h3v31h-3zM1490 237h1v19h-1zM1489 246h3v1h-3zM1494 224h1v32h-1zM1493 232h3v17h-3zM1497 237h1v17h-1zM1496 244h3v5h-3zM1500 235h1v13h-1zM1499 243h3v4h-3zM1504 226h1v30h-1zM1503 226h3v26h-3zM1507 232h1v18h-1zM1506 237h3v10h-3zM1511 213h1v37h-1zM1510 237h3v7h-3zM1514 205h1v27h-1zM1513 211h3v16h-3zM1517 197h1v27h-1zM1516 207h3v10h-3zM1521 197h1v24h-1zM1520 202h3v9h-3zM1524 207h1v14h-1zM1523 210h3v7h-3zM1528 197h1v20h-1zM1527 197h3v20h-3zM1531 179h1v29h-1zM1530 194h3v14h-3zM1534 205h1v24h-1zM1533 210h3v7h-3zM1538 205h1v16h-1zM1537 210h3v8h-3zM1541 197h1v19h-1zM1540 210h3v1h-3zM1545 197h1v21h-1zM1544 207h3v10h-3zM1548 199h1v15h-1zM1547 205h3v9h-3zM1552 202h1v19h-1zM1551 202h3v4h-3zM1555 205h1v9h-1zM1554 205h3v9h-3zM1558 188h1v23h-1zM1557 205h3v6h-3zM1562 199h1v14h-1zM1561 202h3v9h-3zM1565 195h1v15h-1zM1564 202h3v6h-3zM1569 173h1v32h-1zM1568 175h3v28h-3zM1572 147h1v30h-1zM1571 167h3v9h-3zM1575 161h1v19h-1zM1574 170h3v3h-3zM1579 142h1v28h-1zM1578 164h3v6h-3zM1582 139h1v19h-1zM1581 153h3v4h-3zM1586 128h1v20h-1zM1585 142h3v6h-3zM1589 128h1v36h-1zM1588 134h3v20h-3zM1592 145h1v36h-1zM1591 150h3v31h-3zM1596 182h1v23h-1zM1595 186h3v9h-3zM1599 177h1v14h-1zM1598 186h3v1h-3zM1603 169h1v22h-1zM1602 186h3v3h-3zM1606 180h1v29h-1zM1605 180h3v18h-3zM1609 191h1v19h-1zM1608 197h3v3h-3zM1613 198h1v12h-1zM1612 207h3v1h-3zM1616 207h1v19h-1zM1615 216h3v3h-3zM1620 194h1v27h-1zM1619 216h3v1h-3zM1623 188h1v23h-1zM1622 205h3v6h-3zM1626 194h1v13h-1zM1625 197h3v9h-3zM1630 195h1v21h-1zM1629 199h3v1h-3zM1633 202h1v27h-1zM1632 205h3v3h-3zM1637 188h1v14h-1zM1636 197h3v3h-3zM1640 177h1v26h-1zM1639 188h3v7h-3zM1643 194h1v14h-1zM1642 202h3v6h-3zM1647 191h1v16h-1zM1646 197h3v6h-3zM1650 197h1v16h-1zM1649 205h3v1h-3zM1654 183h1v20h-1zM1653 188h3v15h-3zM1657 188h1v17h-1zM1656 188h3v1h-3zM1660 149h1v31h-1zM1659 172h3v4h-3zM1664 150h1v21h-1zM1663 158h3v7h-3zM1667 81h1v72h-1zM1666 93h3v58h-3zM1671 93h1v60h-1zM1670 98h3v48h-3zM1674 134h1v24h-1zM1673 137h3v9h-3zM1677 142h1v25h-1zM1676 145h3v14h-3z"/>
<path fill="#fff" d="M3 722h1v9h-1zM10 710h1v19h-1zM20 726h1v3h-1zM23 718h1v4h-1zM30 734h1v2h-1zM47 737h1v7h-1zM51 738h1v3h-1zM54 730h1v5h-1zM61 726h1v2h-1zM68 723h1v3h-1zM71 700h1v17h-1zM78 693h1v13h-1zM85 691h1v1h-1zM95 706h1v1h-1zM98 684h1v18h-1zM126 714h1v5h-1zM129 706h1v5h-1zM136 710h1v1h-1zM143 710h1v6h-1zM146 687h1v22h-1zM156 679h1v15h-1zM160 655h1v22h-1zM163 647h1v5h-1zM166 639h1v6h-1zM173 645h1v9h-1zM177 583h1v45h-1zM180 550h1v32h-1zM183 520h1v25h-1zM194 530h1v4h-1zM197 538h1v11h-1zM204 518h1v25h-1zM207 511h1v6h-1zM217 561h1v14h-1zM231 591h1v9h-1zM234 580h1v3h-1zM238 564h1v17h-1zM245 549h1v13h-1zM255 520h1v42h-1zM268 516h1v13h-1zM275 495h1v26h-1zM282 458h1v15h-1zM289 440h1v13h-1zM292 436h1v3h-1zM302 424h1v12h-1zM309 429h1v3h-1zM323 504h1v21h-1zM330 511h1v18h-1zM333 492h1v12h-1zM343 473h1v7h-1zM347 460h1v14h-1zM350 441h1v17h-1zM357 448h1v26h-1zM360 429h1v13h-1zM377 542h1v3h-1zM381 534h1v11h-1zM384 505h1v27h-1zM401 529h1v7h-1zM411 531h1v7h-1zM422 501h1v25h-1zM432 478h1v10h-1zM452 492h1v8h-1zM456 485h1v9h-1zM462 471h1v20h-1zM469 478h1v10h-1zM493 553h1v3h-1zM503 554h1v25h-1zM513 541h1v11h-1zM517 522h1v11h-1zM537 527h1v17h-1zM548 565h1v24h-1zM554 563h1v20h-1zM561 538h1v14h-1zM565 542h1v6h-1zM568 512h1v20h-1zM582 534h1v11h-1zM585 519h1v3h-1zM588 515h1v7h-1zM602 533h1v7h-1zM605 501h1v25h-1zM609 475h1v10h-1zM612 445h1v26h-1zM616 435h1v4h-1zM622 429h1v3h-1zM629 430h1v25h-1zM636 422h1v17h-1zM639 422h1v20h-1zM643 375h1v34h-1zM667 501h1v10h-1zM673 492h1v6h-1zM690 565h1v8h-1zM697 553h1v2h-1zM711 553h1v13h-1zM714 576h1v5h-1zM721 613h1v11h-1zM731 621h1v7h-1zM738 605h1v2h-1zM748 597h1v11h-1zM755 590h1v2h-1zM769 574h1v5h-1zM772 567h1v3h-1zM779 629h1v12h-1zM782 606h1v3h-1zM799 649h1v3h-1zM803 666h1v10h-1zM813 670h1v6h-1zM830 687h1v24h-1zM833 657h1v18h-1zM854 678h1v1h-1zM864 674h1v9h-1zM874 695h1v6h-1zM878 688h1v10h-1zM884 672h1v12h-1zM891 648h1v14h-1zM895 614h1v25h-1zM905 624h1v3h-1zM915 593h1v4h-1zM922 592h1v4h-1zM925 582h1v8h-1zM929 568h1v2h-1zM932 542h1v22h-1zM936 515h1v23h-1zM939 490h1v12h-1zM942 484h1v8h-1zM946 463h1v2h-1zM953 469h1v5h-1zM963 488h1v10h-1zM970 495h1v15h-1zM973 501h1v1h-1zM976 477h1v7h-1zM990 489h1v9h-1zM993 480h1v19h-1zM1004 497h1v7h-1zM1007 471h1v27h-1zM1014 448h1v20h-1zM1024 469h1v3h-1zM1027 488h1v6h-1zM1055 539h1v12h-1zM1065 546h1v6h-1zM1072 519h1v19h-1zM1089 529h1v1h-1zM1092 527h1v1h-1zM1099 507h1v16h-1zM1102 485h1v34h-1zM1106 466h1v8h-1zM1109 451h1v10h-1zM1116 448h1v5h-1zM1123 415h1v21h-1zM1140 425h1v11h-1zM1150 437h1v18h-1zM1164 410h1v29h-1zM1167 391h1v2h-1zM1170 353h1v26h-1zM1184 415h1v2h-1zM1187 399h1v7h-1zM1191 386h1v7h-1zM1208 433h1v14h-1zM1211 425h1v13h-1zM1215 402h1v4h-1zM1218 386h1v23h-1zM1276 608h1v14h-1zM1279 593h1v7h-1zM1286 610h1v3h-1zM1289 593h1v11h-1zM1293 563h1v31h-1zM1303 544h1v12h-1zM1306 526h1v3h-1zM1323 544h1v3h-1zM1330 552h1v19h-1zM1334 533h1v11h-1zM1341 511h1v11h-1zM1344 499h1v8h-1zM1368 538h1v13h-1zM1388 575h1v7h-1zM1398 587h1v13h-1zM1402 593h1v1h-1zM1405 591h1v1h-1zM1409 580h1v9h-1zM1415 582h1v6h-1zM1419 569h1v16h-1zM1422 560h1v13h-1zM1426 508h1v55h-1zM1429 484h1v15h-1zM1436 511h1v7h-1zM1439 492h1v12h-1zM1456 537h1v15h-1zM1460 503h1v27h-1zM1477 546h1v13h-1zM1480 537h1v8h-1zM1483 252h1v154h-1zM1487 247h1v29h-1zM1497 245h1v3h-1zM1504 227h1v24h-1zM1511 238h1v5h-1zM1514 212h1v14h-1zM1517 208h1v8h-1zM1528 198h1v18h-1zM1534 211h1v5h-1zM1538 211h1v6h-1zM1545 208h1v8h-1zM1548 206h1v7h-1zM1562 203h1v7h-1zM1565 203h1v4h-1zM1569 176h1v26h-1zM1575 171h1v1h-1zM1579 165h1v4h-1zM1582 154h1v2h-1zM1586 143h1v4h-1zM1603 187h1v1h-1zM1616 217h1v1h-1zM1623 206h1v4h-1zM1626 198h1v7h-1zM1647 198h1v4h-1zM1654 189h1v13h-1zM1660 173h1v2h-1zM1664 159h1v5h-1zM1667 94h1v56h-1z"/>
</svg>
<div class="vax"></div><div class="hax"></div>
<div class="pl" style="top:18px;color:#b4b5ba">3.40</div><div class="pl" style="top:73px">3.20</div><div class="pl" style="top:127px">3.00</div><div class="pl" style="top:182px">2.80</div><div class="pl" style="top:236px">2.60</div><div class="pl" style="top:291px">2.40</div><div class="pl" style="top:345px">2.20</div><div class="pl" style="top:400px">2.000</div><div class="pl" style="top:454px">1.800</div><div class="pl" style="top:509px">1.600</div><div class="pl" style="top:563px">1.400</div><div class="pl" style="top:618px">1.200</div><div class="pl" style="top:672px">1.000</div><div class="pl" style="top:727px">0.800</div><div class="pl" style="top:781px">0.600</div>
<div class="aud"><span>AUD</span></div>
<div class="ml" style="left:-1px;transform:none">Jul</div><div class="ml" style="left:149.5px">Sep</div><div class="ml" style="left:296.2px">Nov</div><div class="ml b" style="left:432px">2022</div><div class="ml" style="left:561px">Mar</div><div class="ml" style="left:700.5px">May</div><div class="ml" style="left:847px">Jul</div><div class="ml" style="left:997px">Sep</div><div class="ml" style="left:1139.8px">Nov</div><div class="ml b" style="left:1282.6px">2023</div><div class="ml" style="left:1418.6px">Mar</div><div class="ml" style="left:1554.6px">May</div><div class="ml" style="left:1704.5px">Jul</div>
<div class="tag" style="left:1731px;width:28px;border-radius:2px 0 0 2px"><span style="display:inline-block;transform:scaleX(.87)">LTR</span></div>
<div class="tag" style="left:1761px;width:36px;border-radius:0 2px 2px 0"><span style="display:inline-block;transform:scaleX(.97);margin-left:1px">2.91</span></div>
<div class="hd" style="left:4.7px;top:7px;color:#444;transform:scaleX(.915)">LTR, 1D, ASX</div>
<div class="hd" style="left:79.5px;top:7px;transform:scaleX(.936)">O<b>2.96</b></div>
<div class="hd" style="left:118.6px;top:7px;transform:scaleX(.94)">H<b>2.97</b></div>
<div class="hd" style="left:156.6px;top:7px;transform:scaleX(.948)">L<b>2.88</b></div>
<div class="hd" style="left:192.8px;top:7px;transform:scaleX(.94)">C<b>2.91</b></div>
<div class="hd" style="left:231.5px;top:7px;transform:scaleX(.943)"><b>−0.05 (−1.69%)</b></div>
<div class="hd" style="left:5px;top:24px;color:#444;transform:scaleX(.916)">Vol</div>
<div class="hd" style="left:28.3px;top:24px;color:#e0666b;transform:scaleX(.935)">6.252M</div>
</body></html>
